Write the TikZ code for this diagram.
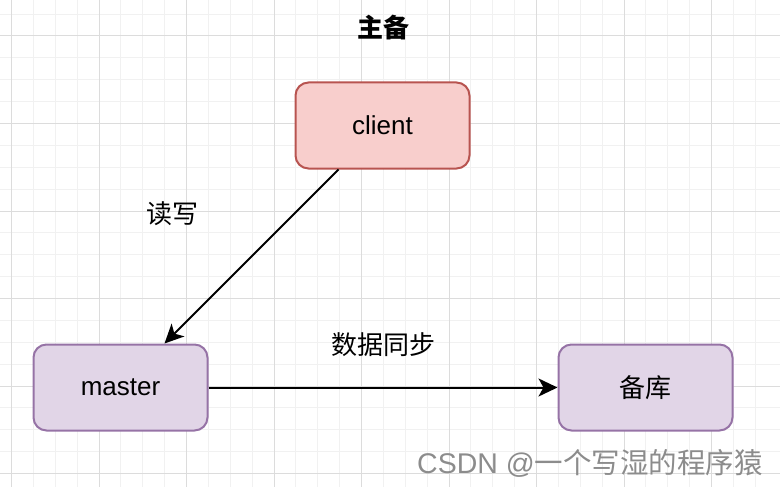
\documentclass[tikz,border=0pt]{standalone}
\usepackage{fontspec}
\setmainfont{Liberation Sans}
\newfontfamily\cjk{Noto Sans CJK SC}
\usetikzlibrary{arrows.meta,calc}

\definecolor{redline}{HTML}{B85450}
\definecolor{redfill}{HTML}{F8CECC}
\definecolor{purpleline}{HTML}{9673A6}
\definecolor{purplefill}{HTML}{E1D5E7}
\definecolor{gridminor}{HTML}{F1F1F1}
\definecolor{gridmajor}{HTML}{DCDCDC}

\tikzset{
  box/.style={line width=2pt, rounded corners=13pt, minimum width=174pt,
    minimum height=86pt, font=\fontsize{26}{30}\selectfont},
  redbox/.style={box, draw=redline, fill=redfill},
  purplebox/.style={box, draw=purpleline, fill=purplefill},
  label/.style={font=\fontsize{26}{30}\selectfont\cjk},
  link/.style={line width=2pt, -{Stealth[length=19pt,width=18pt,inset=5pt]}}
}

\begin{document}
\begin{tikzpicture}[x=1pt,y=-1pt]
\useasboundingbox (0,0) rectangle (780,487);
% grid
\foreach \i in {0,...,35} {
  \draw[gridminor,line width=1pt] ({11.5-21.875+\i*21.875},0) -- ++(0,487);
}
\foreach \i in {0,...,22} {
  \draw[gridminor,line width=1pt] (0,{36-21.875+\i*21.875}) -- ++(780,0);
}
\foreach \i in {0,...,8} {
  \draw[gridmajor,line width=1pt] ({11.5+\i*87.5},0) -- ++(0,487);
}
\foreach \i in {0,...,5} {
  \draw[gridmajor,line width=1pt] (0,{36+\i*87.5}) -- ++(780,0);
}

\node[label,font=\fontsize{26}{30}\selectfont\cjk\bfseries] (title) at (383,28) {主备};

\node[redbox] (client) at (382.5,125.5) {client};
\node[purplebox] (master) at (120.5,387.5) {master};
\node[purplebox] (backup) at (645.5,387.5) {\cjk 备库};

\coordinate (rw from) at ($(client.south west)!0.25!(client.south east)$);
\coordinate (rw to) at ($(master.north west)!0.75!(master.north east)$);

\draw[link] (rw from) -- (rw to);
\draw[link] (master.east) -- (backup.west);

\node[label] (rw) at (172,214) {读写};
\node[label] (sync) at (383,345) {数据同步};

% watermark
\node[font=\fontsize{28.5}{30}\selectfont, text=black!45] (mark) at (590,463)
  {CSDN @{\cjk 一个写湿的程序猿}};
\end{tikzpicture}
\end{document}
